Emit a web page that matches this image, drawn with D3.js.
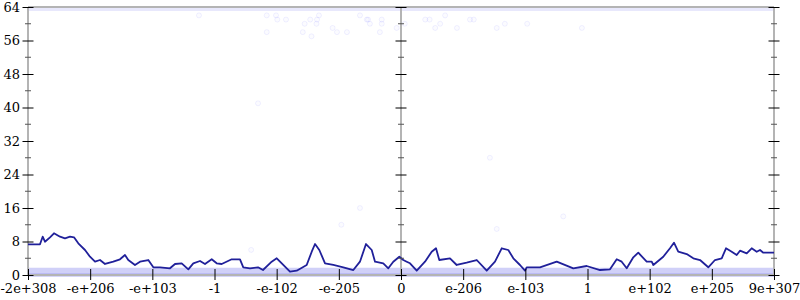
<!DOCTYPE html>
<html>
<head>
<meta charset="utf-8">
<script src="https://cdn.jsdelivr.net/npm/d3@7"></script>
<style>
  body { margin: 0; background: #fff; }
  text { font-family: "DejaVu Serif", serif; font-size: 13px; fill: #000; }
</style>
</head>
<body>
<div class="chart"></div>
<script>
// x runs over the ordered doubles, one unit per labelled tick
var xTickLabels = ["-2e+308", "-e+206", "-e+103", "-1", "-e-102", "-e-205", "0",
                   "e-206", "e-103", "1", "e+102", "e+205", "9e+307"];
var yTicks = [0, 8, 16, 24, 32, 40, 48, 56, 64];
var yMinorTicks = [4, 12, 20, 28, 36, 44, 52, 60];

// running average of error bits
var avgX = [0, 0.193, 0.236, 0.273, 0.354, 0.418, 0.515, 0.595, 0.676, 0.740, 0.809, 0.917, 0.997,
  1.078, 1.158, 1.239, 1.372, 1.480, 1.560, 1.613, 1.721, 1.802, 1.935, 2.016, 2.123, 2.284,
  2.365, 2.472, 2.579, 2.659, 2.767, 2.847, 2.955, 3.035, 3.116, 3.277, 3.410, 3.463, 3.571,
  3.700, 3.780, 3.920, 4.001, 4.054, 4.214, 4.322, 4.483, 4.564, 4.617, 4.686, 4.778, 4.911,
  5.072, 5.233, 5.340, 5.437, 5.529, 5.582, 5.715, 5.796, 5.876, 5.973, 6.037, 6.092, 6.145,
  6.253, 6.386, 6.494, 6.563, 6.616, 6.788, 6.896, 7.056, 7.218, 7.379, 7.512, 7.620, 7.726,
  7.807, 7.914, 7.995, 8.022, 8.236, 8.505, 8.772, 8.987, 9.201, 9.362, 9.470, 9.550, 9.631,
  9.737, 9.817, 9.952, 10.033, 10.059, 10.219, 10.327, 10.391, 10.460, 10.596, 10.702, 10.810,
  10.943, 11.051, 11.159, 11.228, 11.320, 11.400, 11.453, 11.561, 11.641, 11.722, 11.775,
  11.828, 12];
var avgY = [7.33, 7.33, 9.15, 7.95, 9.0, 9.96, 9.15, 8.76, 9.15, 9.0, 7.57, 5.97, 4.37,
  3.18, 3.58, 2.63, 3.18, 3.75, 4.78, 3.58, 2.39, 3.18, 3.58, 1.84, 1.84, 1.60,
  2.63, 2.79, 1.36, 2.79, 3.34, 2.63, 3.75, 2.79, 2.63, 3.75, 3.75, 1.84, 1.60,
  1.84, 1.19, 3.18, 3.99, 3.18, 0.79, 1.03, 2.39, 5.56, 7.40, 5.97, 2.79, 2.39,
  1.84, 1.19, 3.18, 7.40, 5.97, 3.18, 2.79, 1.60, 3.18, 4.37, 3.58, 3.18, 2.79,
  1.03, 3.18, 5.56, 6.38, 3.58, 3.99, 2.39, 2.94, 3.58, 1.03, 3.18, 6.38, 5.97,
  3.99, 2.39, 1.03, 1.84, 1.84, 3.18, 1.60, 2.15, 1.19, 1.36, 3.75, 3.18, 1.60,
  4.23, 5.33, 3.18, 3.18, 2.39, 4.37, 6.38, 7.71, 5.56, 5.01, 3.99, 3.58,
  1.84, 3.58, 3.99, 6.38, 5.56, 4.78, 5.80, 5.18, 6.38, 5.56, 5.97,
  5.33, 5.33];

// sparse samples away from the dense rows
var sampleX = [2.75, 3.84, 3.99, 4.01, 4.15, 4.45, 4.54, 4.65, 4.64, 4.68, 4.90, 4.97,
  3.84, 4.42, 4.56, 5.13, 5.34, 5.47, 5.45, 5.50, 5.69, 5.69, 5.66, 5.93,
  6.39, 6.46, 6.63, 6.71, 6.55, 6.90, 7.11, 7.17, 7.54, 7.67, 8.03, 8.91, 6.06,
  3.59, 5.34, 5.04, 7.54, 8.61, 3.70, 7.43];
var sampleY = [62, 62, 62, 61, 61, 60, 61, 61, 60, 62, 59, 58,
  58, 58, 57, 58, 62, 61, 61, 60, 61, 60, 58, 59,
  61, 61, 60, 62, 59, 59, 61, 61, 59, 60, 60, 59, 60,
  6, 16, 12, 11, 14, 41, 28];

// error levels that are hit almost everywhere
var bandLevels = [64, 1, 0];
var bandColors = ["#e8e8fc", "#d0d0f8", "#5858e6"];
var bandWidths = [5, 6, 2.5];

var svgWidth = 800,
    svgHeight = 300,
    margin = {top: 7, right: 26, bottom: 25, left: 28},
    width = svgWidth - margin.left - margin.right,
    height = svgHeight - margin.top - margin.bottom;

var svg = d3.select(".chart")
    .append("svg")
    .attr("width", svgWidth)
    .attr("height", svgHeight)
    .append("g")
    .attr("transform", "translate(" + margin.left + "," + margin.top + ")");

var x = d3.scaleLinear().domain([0, xTickLabels.length - 1]).range([0, width]),
    y = d3.scaleLinear().domain([0, 64]).range([height, 0]);

// dense rows of samples
svg.selectAll(".band")
    .data(bandLevels)
  .enter().append("line")
    .attr("class", "band")
    .attr("x1", x(0))
    .attr("x2", x(12))
    .attr("y1", function(d) { return y(d) + (d === 64 ? 1.5 : 0); })
    .attr("y2", function(d) { return y(d) + (d === 64 ? 1.5 : 0); })
    .attr("stroke", function(d, i) { return bandColors[i]; })
    .attr("stroke-width", function(d, i) { return bandWidths[i]; });

// frame lines (grey)
var frame = svg.append("g").attr("class", "frame")
    .attr("stroke", "#b4b4b4")
    .attr("stroke-width", 2);
[0, 6, 12].forEach(function(v) {
    frame.append("line")
        .attr("x1", x(v)).attr("x2", x(v))
        .attr("y1", y(0)).attr("y2", y(64));
});
[0, 64].forEach(function(v) {
    frame.append("line")
        .attr("x1", x(0)).attr("x2", x(12))
        .attr("y1", y(v)).attr("y2", y(v));
});

// sparse samples
svg.selectAll(".dot")
    .data(sampleX)
  .enter().append("circle")
    .attr("class", "dot")
    .attr("cx", function(d) { return x(d); })
    .attr("cy", function(d, i) { return y(sampleY[i]); })
    .attr("r", 2.5)
    .attr("fill", "rgba(60,60,255,0.02)")
    .attr("stroke", "rgba(60,60,255,0.07)");

// average line
var line = d3.line()
    .x(function(d) { return x(d); })
    .y(function(d, i) { return y(avgY[i]); });

svg.append("path")
    .datum(avgX)
    .attr("fill", "none")
    .attr("stroke", "#20209a")
    .attr("stroke-width", 1.8)
    .attr("stroke-linejoin", "round")
    .attr("d", line);

// y ticks on the three vertical axes
[0, 6, 12].forEach(function(v, k) {
    var g = svg.append("g").attr("transform", "translate(" + x(v) + ",0)");
    var yAxis = d3.axisLeft(y).tickValues(yTicks).tickSize(-11).tickPadding(k === 0 ? 8 : 0)
        .tickFormat(k === 0 ? d3.format("d") : "");
    g.call(yAxis);
    g.selectAll(".tick line").attr("x1", -5.5).attr("x2", 5.5).attr("stroke", "#000");
    g.select(".domain").remove();
    g.selectAll("text").attr("x", -8).style("font-size", "13px")
        .style("font-family", "'DejaVu Serif', serif").attr("fill", "#000");
    g.selectAll(".minor")
        .data(yMinorTicks)
      .enter().append("line")
        .attr("class", "minor")
        .attr("x1", -3).attr("x2", 3)
        .attr("y1", function(d) { return y(d); })
        .attr("y2", function(d) { return y(d); })
        .attr("stroke", "#555");
});

// x ticks
var xAxis = d3.axisBottom(x)
    .tickValues(d3.range(xTickLabels.length))
    .tickFormat(function(d) { return xTickLabels[d]; })
    .tickSize(5)
    .tickPadding(4);

var gx = svg.append("g")
    .attr("transform", "translate(0," + height + ")")
    .call(xAxis);
gx.select(".domain").remove();
gx.selectAll(".tick line").attr("y1", -6).attr("y2", 5).attr("stroke", "#000");
gx.selectAll("text").style("font-size", "13px")
    .style("font-family", "'DejaVu Serif', serif").attr("fill", "#000");
</script>
</body>
</html>
